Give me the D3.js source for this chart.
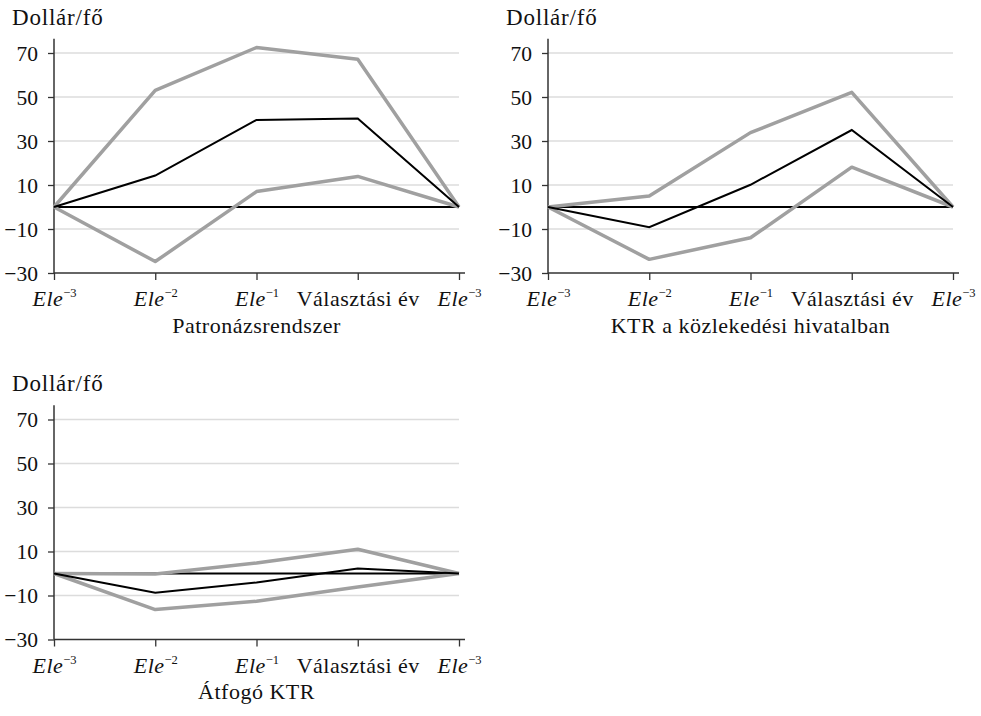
<!DOCTYPE html>
<html>
<head>
<meta charset="utf-8">
<script src="https://cdn.jsdelivr.net/npm/d3@7"></script>
<style>
  body { margin: 0; background: #fff; }
</style>
</head>
<body>
<div id="chart"></div>
<script>
// x categories (Ele^-3 appears twice, so keep by index)
var xBase = ["Ele", "Ele", "Ele", "Választási év", "Ele"];
var xSup = ["−3", "−2", "−1", "", "−3"];
var yTicks = [-30, -10, 10, 30, 50, 70];

var panelTitles = ["Patronázsrendszer", "KTR a közlekedési hivatalban", "Átfogó KTR"];

// estimate (black) and upper / lower bounds (gray), dollar per capita
var patronEst = [0, 14.3, 39.6, 40.2, 0];
var patronHigh = [0, 53, 72.5, 67.2, 0];
var patronLow = [0, -24.8, 7, 13.9, 0];

var ktrHivEst = [0, -9.2, 10.1, 35, 0];
var ktrHivHigh = [0, 5, 33.8, 52.1, 0];
var ktrHivLow = [0, -23.8, -14, 18.1, 0];

var ktrAllEst = [0, -8.7, -4.1, 2.3, 0];
var ktrAllHigh = [0, -0.2, 4.8, 11, 0];
var ktrAllLow = [0, -16.4, -12.6, -6.1, 0];

var zeroLine = [0, 0, 0, 0, 0];

var svgWidth = 981;
var svgHeight = 716;
var FONT = "Liberation Serif";

var panels = [
    { title: panelTitles[0], est: patronEst, high: patronHigh, low: patronLow, left: 54, top: 53 },
    { title: panelTitles[1], est: ktrHivEst, high: ktrHivHigh, low: ktrHivLow, left: 548, top: 53 },
    { title: panelTitles[2], est: ktrAllEst, high: ktrAllHigh, low: ktrAllLow, left: 54, top: 419.5 }
];

var width = 405;
var height = 220;

var svg = d3.select("#chart")
    .append("svg")
    .attr("width", svgWidth)
    .attr("height", svgHeight)
    .attr("font-family", FONT);

var xScale = d3.scalePoint()
    .domain(d3.range(xBase.length))
    .range([0, width]);

var yScale = d3.scaleLinear()
    .domain([-30, 70])
    .range([height, 0]);

var line = d3.line()
    .x((d, i) => xScale(i))
    .y(d => yScale(d));

panels.forEach(function (p) {
    var g = svg.append("g")
        .attr("transform", `translate(${p.left}, ${p.top})`);

    // gridlines
    g.selectAll(".grid")
        .data(yTicks.filter(d => d > -30))
        .enter()
        .append("line")
        .attr("x1", 0)
        .attr("x2", width)
        .attr("y1", d => yScale(d))
        .attr("y2", d => yScale(d))
        .attr("stroke", "#dcdcdc")
        .attr("stroke-width", 1.5);

    // y axis
    var yAxis = g.append("g")
        .call(d3.axisLeft(yScale)
            .tickValues(yTicks)
            .tickSize(6)
            .tickSizeOuter(0)
            .tickFormat(d => d3.format("d")(d).replace("-", "−")));
    yAxis.attr("font-family", FONT).attr("font-size", 21.5);
    yAxis.select(".domain")
        .attr("d", `M0,${yScale(-30)}V${yScale(76.5)}`)
        .attr("stroke", "#333")
        .attr("stroke-width", 1.5);
    yAxis.selectAll(".tick line").attr("stroke", "#333").attr("stroke-width", 1.3);
    yAxis.selectAll(".tick text")
        .attr("x", -16)
        .attr("dy", "0.34em")
        .attr("font-family", FONT)
        .attr("fill", "#111");

    // y label
    g.append("text")
        .attr("x", -42)
        .attr("y", -28.5)
        .attr("font-family", FONT)
        .attr("font-size", 23)
        .attr("letter-spacing", 0.8)
        .attr("fill", "#111")
        .text("Dollár/fő");

    // x axis
    var xAxis = g.append("g")
        .attr("transform", `translate(0, ${height})`)
        .call(d3.axisBottom(xScale).tickSize(7).tickSizeOuter(0).tickFormat(""));
    xAxis.attr("font-family", FONT).attr("font-size", 22);
    xAxis.select(".domain")
        .attr("d", `M0,0H${width + 6}`)
        .attr("stroke", "#333")
        .attr("stroke-width", 1.5);
    xAxis.selectAll(".tick line").attr("stroke", "#333").attr("stroke-width", 1.3);

    xAxis.selectAll(".tick").each(function (d) {
        var t = d3.select(this).append("text")
            .attr("y", 33)
            .attr("text-anchor", "middle")
            .attr("fill", "#111")
            .attr("font-family", FONT)
            .attr("font-size", 22)
            .attr("letter-spacing", 0.5);
        if (xSup[d]) {
            t.append("tspan").attr("font-style", "italic").text(xBase[d]);
            t.append("tspan")
                .attr("dy", -9)
                .attr("font-size", 12.5)
                .attr("letter-spacing", 0)
                .text(xSup[d]);
        } else {
            t.text(xBase[d]);
        }
    });

    // panel title
    g.append("text")
        .attr("x", width / 2)
        .attr("y", height + 59.5)
        .attr("text-anchor", "middle")
        .attr("font-family", FONT)
        .attr("font-size", 22)
        .attr("letter-spacing", 0.5)
        .attr("fill", "#111")
        .text(p.title);

    // zero reference line
    g.append("path")
        .datum(zeroLine)
        .attr("d", line)
        .attr("fill", "none")
        .attr("stroke", "#000")
        .attr("stroke-width", 2);

    // bounds
    [p.high, p.low].forEach(function (s) {
        g.append("path")
            .datum(s)
            .attr("d", line)
            .attr("fill", "none")
            .attr("stroke", "#a0a0a0")
            .attr("stroke-width", 3.5)
            .attr("stroke-linejoin", "round");
    });

    // estimate
    g.append("path")
        .datum(p.est)
        .attr("d", line)
        .attr("fill", "none")
        .attr("stroke", "#000")
        .attr("stroke-width", 2);
});
</script>
</body>
</html>
